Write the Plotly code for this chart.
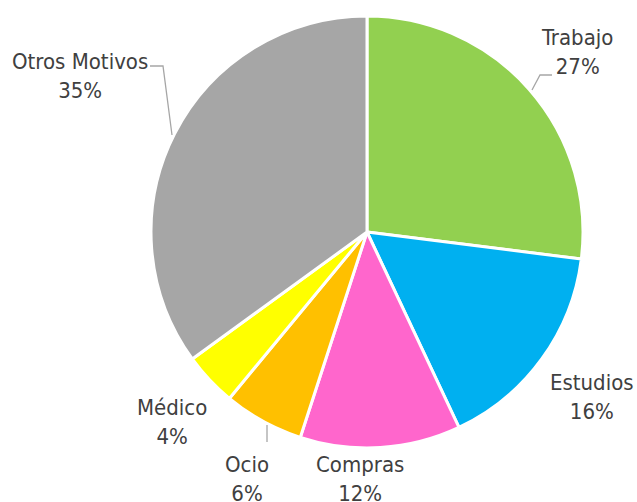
import plotly.graph_objects as go

categories = ["Trabajo", "Estudios", "Compras", "Ocio", "Médico", "Otros Motivos"]
values = [27, 16, 12, 6, 4, 35]
colors = ["#92D050", "#00B0F0", "#FF66CC", "#FFC000", "#FFFF00", "#A6A6A6"]

# label block centres in pixels (layout only)
label_px = [(577, 52), (592, 397), (360, 479), (247, 479), (172, 422), (80, 76)]
leaders_px = [
    [(552, 75), (540, 75), (532, 90)],
    None, None,
    [(267, 425), (267, 442)],
    None,
    [(150, 66), (163, 66), (172, 135)],
]

W, H = 637, 502
L, T, S = 151, 16, 432
R, B = W - L - S, H - T - S
PW, PH = S, S

def to_paper(px, py):
    return (px - L) / PW, (H - B - py) / PH

FONT = "DejaVu Sans Condensed, Liberation Sans, sans-serif"

fig = go.Figure(go.Pie(
    labels=categories, values=values, sort=False, direction="clockwise", rotation=0,
    marker=dict(colors=colors, line=dict(color="white", width=3)),
    textinfo="none", hoverinfo="label+percent", showlegend=False,
))

total = sum(values)
annotations = []
for cat, v, (px, py) in zip(categories, values, label_px):
    x, y = to_paper(px, py)
    annotations.append(dict(
        x=x, y=y, xref="paper", yref="paper", showarrow=False,
        text=f"{cat}<br>{round(100 * v / total)}%", align="center",
        font=dict(family=FONT, size=22, color="#404040"),
        xanchor="center", yanchor="middle",
    ))

shapes = []
for pts in leaders_px:
    if not pts:
        continue
    path = "M " + " L ".join(f"{to_paper(px, py)[0]},{to_paper(px, py)[1]}" for px, py in pts)
    shapes.append(dict(type="path", path=path, xref="paper", yref="paper",
                       line=dict(color="#A6A6A6", width=1.3)))

fig.update_layout(
    width=W, height=H, margin=dict(l=L, r=R, t=T, b=B),
    paper_bgcolor="white", plot_bgcolor="white",
    annotations=annotations, shapes=shapes,
)
fig.write_html("out.html", config={"displayModeBar": False},
               post_script="document.body.style.margin='0';document.body.style.overflow='hidden';")
